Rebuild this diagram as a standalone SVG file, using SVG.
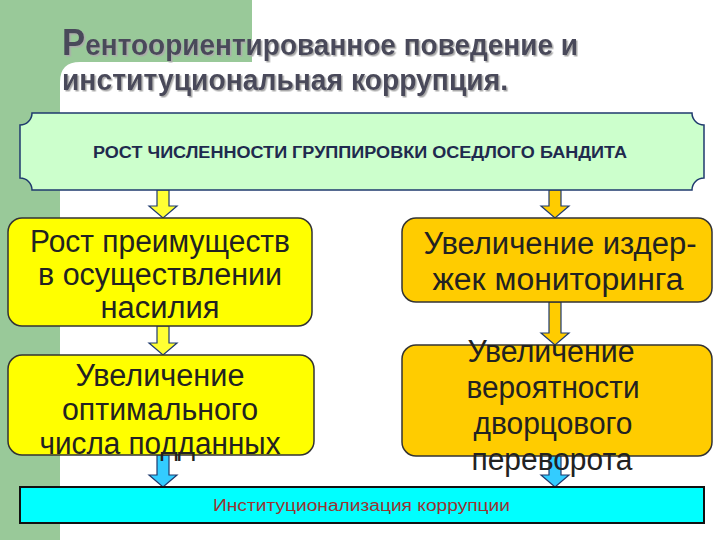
<svg xmlns="http://www.w3.org/2000/svg" width="720" height="540" viewBox="0 0 720 540">
<defs><style>
.t{font-family:"Liberation Sans",Arial,sans-serif;}
.box{stroke:#333;stroke-width:1.5}
.bt{font-size:31px;fill:#222;text-anchor:middle}
.ttl{font-size:29px;font-weight:bold;fill:#4a4a5a}
</style>
<filter id="sh"><feDropShadow dx="1.5" dy="1.5" stdDeviation="0.5" flood-color="#aaa"/></filter>
</defs>
<rect width="720" height="540" fill="#fff"/>
<rect x="0" y="0" width="252" height="62" fill="#99c999"/>
<rect x="0" y="0" width="60" height="540" fill="#99c999"/>
<path d="M60 62 H80 Q60 62 60 82 Z" fill="#99c999"/>
<g class="t" filter="url(#sh)">
<text x="62" y="55" class="ttl" textLength="516" lengthAdjust="spacingAndGlyphs"><tspan font-size="36">Р</tspan>ентоориентированное поведение и</text>
<text x="62" y="90" class="ttl" textLength="446" lengthAdjust="spacingAndGlyphs">институциональная коррупция.</text>
</g>
<g id="connectors" stroke="#1f3a6e" stroke-width="1.2">
<path d="M157 190 h12 v16 h8 l-14 12 l-14 -12 h8 z" fill="#ffff33"/>
<path d="M549 190 h12 v16 h8 l-14 12 l-14 -12 h8 z" fill="#ffcc00"/>
<path d="M157 326 h12 v17 h8 l-14 12 l-14 -12 h8 z" fill="#ffff33"/>
<path d="M549 302 h12 v31 h8 l-14 12 l-14 -12 h8 z" fill="#ffcc00"/>
<path d="M157 455 h12 v20 h8 l-14 12 l-14 -12 h8 z" fill="#33ccff"/>
<path d="M549 455 h12 v20 h8 l-14 12 l-14 -12 h8 z" fill="#33ccff"/>
</g>
<g id="top">
<path d="M32 113 H692 A12 12 0 0 0 704 125 V178 A12 12 0 0 0 692 190 H32 A12 12 0 0 0 20 178 V125 A12 12 0 0 0 32 113 Z" fill="#ccffcc" stroke="#1f3a6e" stroke-width="1.5"/>
<text x="93" y="158" class="t" font-size="16" font-weight="bold" fill="#1f2a4e" textLength="534" lengthAdjust="spacingAndGlyphs">РОСТ ЧИСЛЕННОСТИ ГРУППИРОВКИ ОСЕДЛОГО БАНДИТА</text>
</g>
<g id="l1"><rect x="8" y="218" width="304" height="108" rx="14" fill="#ffff00" class="box"/>
<text class="t bt" x="160" y="252" textLength="260" lengthAdjust="spacingAndGlyphs">Рост преимуществ</text><text class="t bt" x="160" y="285" textLength="244" lengthAdjust="spacingAndGlyphs">в осуществлении</text><text class="t bt" x="160" y="318" textLength="119" lengthAdjust="spacingAndGlyphs">насилия</text></g>
<g id="r1"><rect x="402" y="218" width="310" height="84" rx="14" fill="#ffcc00" class="box"/>
<text class="t bt" x="560" y="254" textLength="273" lengthAdjust="spacingAndGlyphs">Увеличение издер-</text><text class="t bt" x="558" y="290" textLength="251" lengthAdjust="spacingAndGlyphs">жек мониторинга</text></g>
<g id="l2"><rect x="8" y="355" width="306" height="100" rx="14" fill="#ffff00" class="box"/>
<text class="t bt" x="160" y="386" textLength="169" lengthAdjust="spacingAndGlyphs">Увеличение</text><text class="t bt" x="160" y="420" textLength="196" lengthAdjust="spacingAndGlyphs">оптимального</text><text class="t bt" x="160" y="454" textLength="241" lengthAdjust="spacingAndGlyphs">числа подданных</text></g>
<g id="r2"><rect x="402" y="345" width="310" height="111" rx="14" fill="#ffcc00" class="box"/>
<text class="t bt" x="551" y="362" textLength="167" lengthAdjust="spacingAndGlyphs">Увеличение</text><text class="t bt" x="553" y="398" textLength="173" lengthAdjust="spacingAndGlyphs">вероятности</text><text class="t bt" x="553" y="434" textLength="159" lengthAdjust="spacingAndGlyphs">дворцового</text><text class="t bt" x="552" y="470" textLength="161" lengthAdjust="spacingAndGlyphs">переворота</text></g>
<g id="bottom"><rect x="20" y="487" width="684" height="36" fill="#00ffff" stroke="#111" stroke-width="2"/>
<text x="213" y="511" class="t" font-size="16" fill="#993333" textLength="297" lengthAdjust="spacingAndGlyphs">Институционализация коррупции</text></g>
</svg>
